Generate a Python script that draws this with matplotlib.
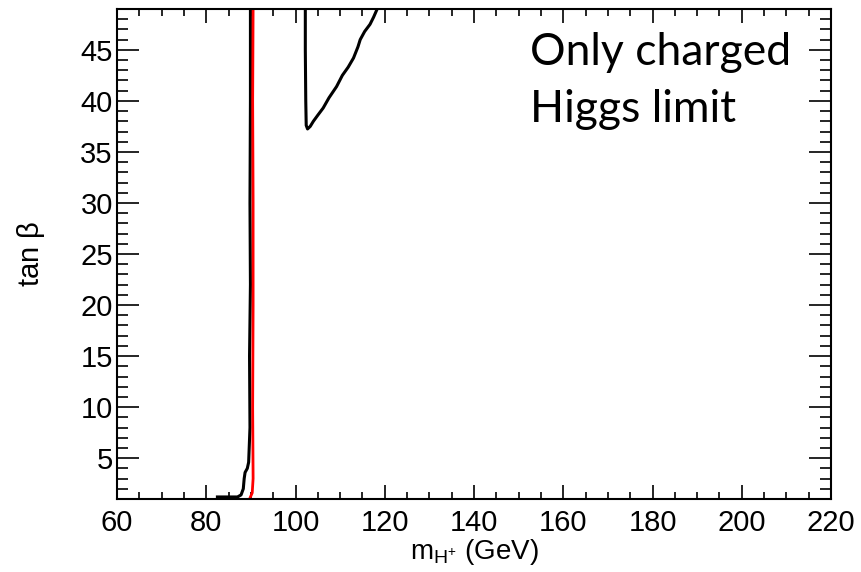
import numpy as np
import matplotlib
matplotlib.use("Agg")
import matplotlib.pyplot as plt
from matplotlib.ticker import MultipleLocator

plt.rcParams['font.family'] = ['Liberation Sans', 'DejaVu Sans']
plt.rcParams['mathtext.fontset'] = 'custom'
plt.rcParams['mathtext.rm'] = 'Liberation Sans'
plt.rcParams['mathtext.it'] = 'Liberation Sans'

# lower exclusion contour (black), m_H+ vs tan beta
low_mh = [82.5, 87.0, 87.8, 88.3, 88.5, 88.7, 89.2, 89.5, 89.8, 89.7, 89.9, 89.8, 89.9, 89.9]
low_tb = [1.2, 1.2, 1.4, 2.0, 3.0, 3.6, 4.0, 4.6, 8.0, 15.0, 22.0, 30.0, 40.0, 49.0]

# red limit line
red_mh = [89.8, 90.3, 90.5, 90.4, 90.5, 90.5, 90.4, 90.5]
red_tb = [1.1, 1.6, 3.0, 10.0, 20.0, 30.0, 40.0, 49.0]

# upper island contour (black)
up_mh = [102.2, 102.2, 102.3, 102.4, 102.7, 103.3, 104.0, 105.0, 106.2, 107.5,
         109.2, 110.5, 111.8, 113.0, 114.0, 114.5, 115.5, 116.7, 117.5, 118.3]
up_tb = [49.0, 45.0, 40.0, 37.6, 37.25, 37.5, 38.0, 38.6, 39.3, 40.3,
         41.4, 42.5, 43.3, 44.2, 45.3, 46.0, 46.8, 47.5, 48.2, 49.0]

W, H = 861, 572
fig = plt.figure(figsize=(W/100, H/100), dpi=100)
ax = fig.add_axes([117/W, 1 - 499/H, (831-117)/W, (499-9)/H])

ax.plot(low_mh, low_tb, color='black', lw=2.2)
ax.plot(red_mh, red_tb, color='red', lw=2.0)
ax.plot(up_mh, up_tb, color='black', lw=2.2)

ax.set_xlim(60, 220)
ax.set_ylim(1, 49)
ax.xaxis.set_major_locator(MultipleLocator(20))
ax.xaxis.set_minor_locator(MultipleLocator(5))
ax.yaxis.set_minor_locator(MultipleLocator(1))
ax.set_yticks([5, 10, 15, 20, 25, 30, 35, 40, 45])

ax.tick_params(axis='x', which='major', direction='in', length=10, width=1.2,
               top=True, labelsize=21, pad=7)
ax.tick_params(axis='x', which='minor', direction='in', length=5, width=1.2, top=True)
ax.tick_params(axis='y', which='major', direction='in', length=16, width=1.2,
               right=True, labelsize=21, pad=3)
ax.tick_params(axis='y', which='minor', direction='in', length=8, width=1.2, right=True)
for s in ax.spines.values():
    s.set_linewidth(1.5)

ax.set_xlabel(r'm$_{\mathrm{H}^{+}}$ (GeV)', fontsize=20, labelpad=0)
ax.set_ylabel(r'tan $\beta$', fontsize=21, labelpad=24)

fig.text(530/W, 1 - 65/H, 'Only charged', fontsize=32, family='Lato', va='baseline')
fig.text(530/W, 1 - 122/H, 'Higgs limit', fontsize=32, family='Lato', va='baseline')

fig.savefig('out.png', dpi=100)
